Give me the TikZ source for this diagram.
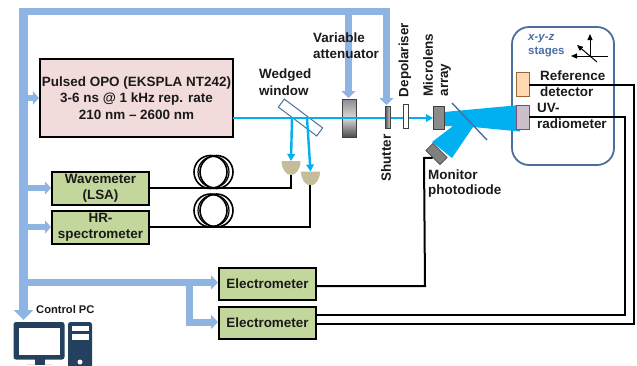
\documentclass[tikz,border=0pt]{standalone}
\usepackage{fontspec}
\setmainfont{Liberation Sans}
\usetikzlibrary{arrows.meta,calc}
\definecolor{busc}{HTML}{8EB4E3}
\definecolor{beamc}{HTML}{00B0F0}
\definecolor{greenbox}{HTML}{C3D69B}
\definecolor{pinkbox}{HTML}{F2DCDB}
\definecolor{steel}{HTML}{4A6F9F}
\definecolor{pcc}{HTML}{24405F}
\definecolor{detc}{HTML}{C4BD97}
\definecolor{txt}{HTML}{1A1A1A}
\tikzset{
  busarrow/.style={draw=busc,line width=7bp,-{Triangle[length=7bp,width=14bp]}},
  instr/.style={draw=black,line width=2bp,fill=greenbox,inner sep=0pt,align=center,font=\fontsize{13.5}{16.5}\selectfont\bfseries,text=txt},
  wire/.style={draw=black,line width=2bp},
  beamarrow/.style={draw=beamc,line width=2.4bp,-{Triangle[length=7bp,width=7.5bp]}},
  lab/.style={inner sep=0pt,align=left,font=\fontsize{13.5}{16}\selectfont\bfseries,text=txt},
  vlab/.style={lab,rotate=90},
  opt/.style={inner sep=0pt,draw=black!75,line width=1bp},
}
\begin{document}
\begin{tikzpicture}[x=1bp,y=-1bp]
\useasboundingbox (0,0) rectangle (637,365);
% instruments
\node[instr,minimum width=193bp,minimum height=78bp,fill=pinkbox] (opo) at (136.5,98) {Pulsed OPO (EKSPLA NT242)\\3-6 ns @ 1 kHz rep. rate\\210 nm -- 2600 nm};
\node[instr,minimum width=97bp,minimum height=33bp] (wave) at (100.5,188) {Wavemeter\\(LSA)};
\node[instr,minimum width=97bp,minimum height=33bp] (hr) at (100.5,227) {HR-\\spectrometer};
\node[instr,minimum width=97bp,minimum height=32bp] (el1) at (267.5,284) {Electrometer};
\node[instr,minimum width=97bp,minimum height=32bp] (el2) at (267.5,323) {Electrometer};
% control bus
\coordinate (pcin) at (23.5,320);
\coordinate (shin) at (386.5,105);
\coordinate (atin) at (348.5,98);
\coordinate (el1in) at (218,282.5);
\coordinate (el2in) at (218,322);
\fill[busc] (19,8) rectangle (390,15);
\fill[busc] (19,8) rectangle (28,312);
\draw[busarrow,line width=9bp,-{Triangle[length=10bp,width=19bp]}] (23.5,300) -- (pcin);
\draw[busarrow] (348.5,14) -- (atin);
\draw[busarrow] (386.5,14) -- (shin);
\draw[busarrow,line width=6bp,-{Triangle[length=6bp,width=13bp]}] (27,98) -- (opo.west);
\draw[busarrow,line width=6bp,-{Triangle[length=6bp,width=13bp]}] (27,188) -- (wave.west);
\draw[busarrow,line width=6bp,-{Triangle[length=6bp,width=13bp]}] (27,227) -- (hr.west);
\draw[busarrow] (27,282.5) -- (el1in);
\draw[busarrow] (189.5,282) -- (189.5,322) -- (el2in);
% control PC
\node[lab,font=\fontsize{11.2}{13}\selectfont\bfseries,anchor=west] (pclabel) at (36,310) {Control PC};
\fill[pcc,rounded corners=2.5bp] (13.5,322) rectangle (64.5,359.5);
\fill[white] (18.5,327.5) rectangle (60,355);
\fill[black!12] (27,363.5) rectangle (52,365);
\fill[pcc] (34.5,359) rectangle (44.5,365);
\fill[pcc,rounded corners=2.5bp] (68,322) rectangle (92,368);
\fill[white] (72,325.5) rectangle (89,331);
\fill[white] (72,334) rectangle (89,339.5);
\fill[white] (80,362) circle[radius=2.5bp];
% stage box
\node[draw=steel,line width=1.8bp,rounded corners=17bp,minimum width=102bp,minimum height=138bp,inner sep=0pt] (stage) at (563,96) {};
\node[draw=black!70,line width=.8bp,fill=black!50,minimum width=20bp,minimum height=10bp,inner sep=0pt,rotate=-45] (mon) at (436.5,154) {};
% beam cone
\fill[beamc] (444,112) -- (520,105) -- (520,131.5) -- (473,127) -- (452,158) -- (432,142) -- (453,126) -- (444,126) -- cycle;
\draw[steel,line width=1.4bp] (452,103) -- (487,140);
% optics under the beam
\node[draw=steel,line width=1bp,fill=white,minimum width=48bp,minimum height=10bp,inner sep=0pt,rotate=-37] (wedge) at (300.5,117.5) {};
\node[opt,minimum width=14bp,minimum height=38bp,top color=black!45,bottom color=black!70,middle color=black!15] (att) at (349,118) {};
\node[opt,minimum width=11bp,minimum height=23bp,fill=black!45] (lens) at (438.5,117.5) {};
% beam
\coordinate (bs) at (233,118);
\coordinate (be) at (433,118);
\draw[beamarrow] (bs) -- (be);
% optics over the beam
\node[opt,minimum width=5bp,minimum height=22bp,left color=black!70,right color=black!20] (shut) at (387.5,117) {};
\node[opt,minimum width=5bp,minimum height=24bp,fill=white] (depol) at (405.5,116) {};
% detectors
\coordinate (d1) at (291,161);
\coordinate (d2) at (310.5,171.5);
\fill[detc] (281.5,161) arc[start angle=180,end angle=360,x radius=9.5bp,y radius=14bp] -- cycle;
\fill[detc] (301,171.5) arc[start angle=180,end angle=360,x radius=9.5bp,y radius=14bp] -- cycle;
\draw[beamarrow] (292,118) -- (d1);
\draw[beamarrow] (307,118) -- (d2);
% fibre coils
\foreach \cy in {172,210.5}{
  \draw[black,line width=1.6bp] (210.5,\cy) circle[radius=16.5bp];
  \draw[black,line width=1.6bp] (216.5,\cy) circle[radius=16.5bp];
  \draw[black,line width=1.2bp] (213.5,\cy) circle[radius=15.5bp];
}
\draw[wire] (wave.east) -- (291,188) -- (291,175);
\draw[wire] (hr.east) -- (310,227) -- (310,185);
% stage detectors
\node[draw=brown!80!black,line width=1bp,fill=orange!30,minimum width=13bp,minimum height=24bp,inner sep=0pt] (ref) at (522.5,84) {};
\node[draw=violet!50!black!70,line width=1bp,fill=violet!25!gray!40,minimum width=13bp,minimum height=24bp,inner sep=0pt] (uv) at (522.5,117) {};
% long wires
\coordinate (e1o) at (316,286);
\coordinate (e2a) at (316,315);
\coordinate (e2b) at (316,324);
\coordinate (uvo) at (529,117);
\coordinate (refo) at (529,85);
\draw[wire] (e1o) -- (425,286) -- (424,158) -- (mon.south);
\draw[wire] (e2a) -- (625,315) -- (625,117) -- (uvo);
\draw[wire] (e2b) -- (634,324) -- (634,85) -- (refo);
% stage axes
\draw[black,line width=1bp,-{Triangle[length=6bp,width=5bp]}] (590,57) -- (590,34);
\draw[black,line width=1bp,-{Triangle[length=6bp,width=5bp]}] (608,56) -- (571,56);
\draw[black,line width=1bp,-{Triangle[length=6bp,width=5bp]}] (597,62) -- (577,45);
% labels
\node[lab,anchor=west] (lvar) at (313,38) {Variable};
\node[lab,anchor=west] (latt) at (313,54) {attenuator};
\node[lab,anchor=west] (lw1) at (259,75) {Wedged};
\node[lab,anchor=west] (lw2) at (259,91) {window};
\node[vlab] (lsh) at (386,158) {Shutter};
\node[vlab] (ldp) at (405,60) {Depolariser};
\node[vlab] (lml) at (428,65) {Microlens};
\node[vlab] (lar) at (446,80) {array};
\node[lab,anchor=west] (lm1) at (428,175) {Monitor};
\node[lab,anchor=west] (lm2) at (428,191) {photodiode};
\node[lab,anchor=west] (lr1) at (540,76) {Reference};
\node[lab,anchor=west] (lr2) at (540,92) {detector};
\node[lab,anchor=west] (lu1) at (537,108) {UV-};
\node[lab,anchor=west] (lu2) at (537,124) {radiometer};
\node[lab,anchor=west,text=steel,font=\fontsize{11.5}{13}\selectfont\bfseries\itshape] (lx) at (528,39) {x-y-z};
\node[lab,anchor=west,text=steel,font=\fontsize{11.5}{13}\selectfont\bfseries] (ls) at (528,52) {stages};
\end{tikzpicture}
\end{document}
